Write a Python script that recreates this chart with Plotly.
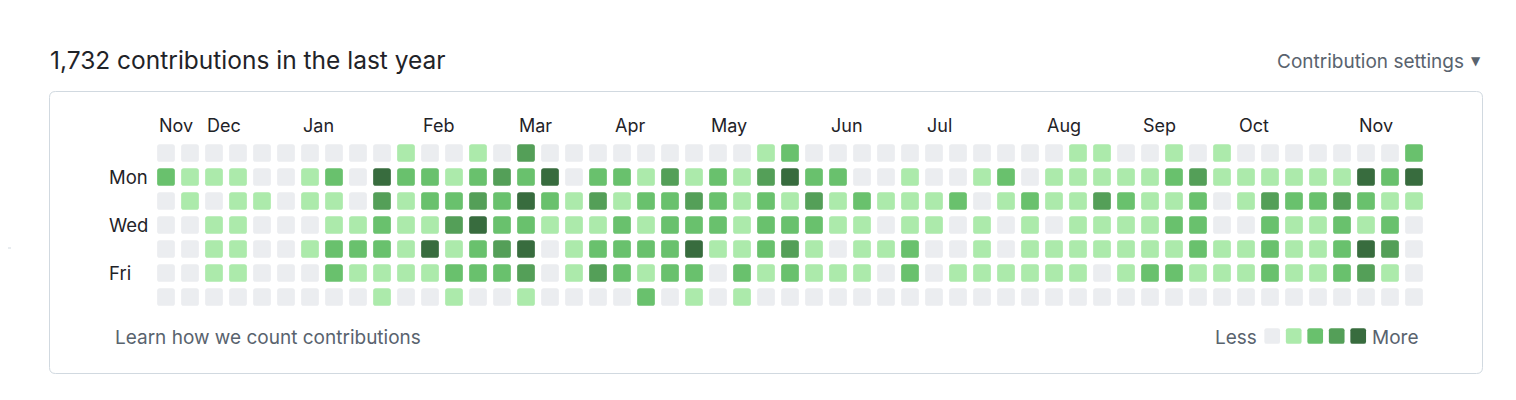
import plotly.graph_objects as go

# ---- data ----
weekday_names = ["Sun", "Mon", "Tue", "Wed", "Thu", "Fri", "Sat"]
sun = [0,0,0,0,0,0,0,0,0,0,1, 0,0,1,0,3,0,0,0,0,0,0,0, 0,0,1,2,0,0,0,0,0,0,0,0,0, 0,0,1,1,0,0,1,0,1,0,0,0,0, 0,0,0,2]
mon = [2,1,1,1,0,0,1,2,0,4,2, 2,1,2,3,2,4,0,2,2,1,3,1, 2,1,3,4,2,2,0,0,1,0,0,1,2, 0,1,1,1,1,1,2,3,1,1,1,1,1, 1,4,2,4]
tue = [0,1,0,1,1,0,1,1,0,3,1, 2,2,3,2,4,2,1,3,1,2,2,3, 2,1,2,1,3,1,2,1,1,1,2,0,1, 2,1,1,3,2,1,1,2,0,1,3,2,2, 3,2,1,1]
wed = [0,0,1,1,0,0,0,1,1,2,1, 1,3,4,2,2,1,1,1,2,1,2,2, 2,1,2,2,2,1,1,0,1,1,0,1,0, 1,0,1,1,1,1,2,2,0,0,2,1,1, 2,1,2,0]
thu = [0,0,1,1,0,0,1,2,2,2,1, 4,1,2,3,4,0,1,2,2,2,2,4, 1,1,2,3,1,0,1,1,2,0,0,1,0, 1,1,1,1,1,1,1,2,1,1,2,1,1, 2,4,3,0]
fri = [0,0,1,1,0,0,0,2,1,1,1, 1,2,2,2,3,0,1,3,2,1,2,2, 0,2,1,2,1,1,1,0,2,0,1,1,1, 1,1,1,0,1,2,2,1,1,1,2,1,1, 2,3,1,0]
sat = [0,0,0,0,0,0,0,0,0,1,0, 0,1,0,0,1,0,0,0,0,2,0,1, 0,1,0,0,0,0,0,0,0,0,0,0,0, 0,0,0,0,0,0,0,0,0,0,0,0,0, 0,0,0,0]
weeks = [sun, mon, tue, wed, thu, fri, sat]

month_labels = ["Nov", "Dec", "Jan", "Feb", "Mar", "Apr", "May", "Jun", "Jul", "Aug", "Sep", "Oct", "Nov"]
month_cols = [0, 2, 6, 11, 15, 19, 23, 28, 32, 37, 41, 45, 50]
day_labels = ["Mon", "Wed", "Fri"]
day_rows = [1, 3, 5]
level_colors = ["#ebedf0", "#aceaab", "#69c16d", "#549f58", "#386c3e"]

title_text = "1,732 contributions in the last year"

# ---- geometry (page pixels; figure sits at an 8px body offset) ----
OFF = 8
W, H = 1516 - 2 * OFF, 400 - 2 * OFF
PX = 24.0  # pixels per column/row unit
X0 = -(166 - OFF) / PX
Y0 = -(153 - OFF) / PX
half = 8.85 / PX
rad = 2.6 / PX


def rrect(cx, cy, hw, hh, r):
    x0, x1, y0, y1 = cx - hw, cx + hw, cy - hh, cy + hh
    return (f"M {x0+r},{y0} L {x1-r},{y0} Q {x1},{y0} {x1},{y0+r} "
            f"L {x1},{y1-r} Q {x1},{y1} {x1-r},{y1} L {x0+r},{y1} "
            f"Q {x0},{y1} {x0},{y1-r} L {x0},{y0+r} Q {x0},{y0} {x0+r},{y0} Z")


def px(x):
    return (x - OFF) / W


def py(y):
    return 1 - (y - OFF) / H


def dx(x):
    return (x - 166) / PX


def dy(y):
    return (y - 153) / PX


shapes = []
# bounding box (paper coords)
bx0, bx1, by0, by1, br = 49.5, 1482.5, 91.5, 373.5, 6
rx, ry = br / W, br / H
a, b, c, d = px(bx0), px(bx1), py(by0), py(by1)
box_path = (f"M {a+rx},{c} L {b-rx},{c} Q {b},{c} {b},{c-ry} L {b},{d+ry} Q {b},{d} {b-rx},{d} "
            f"L {a+rx},{d} Q {a},{d} {a},{d+ry} L {a},{c-ry} Q {a},{c} {a+rx},{c} Z")
shapes.append(dict(type="path", xref="paper", yref="paper", path=box_path,
                   line=dict(color="#d1d9e0", width=1), fillcolor="rgba(0,0,0,0)", layer="below"))
shapes.append(dict(type="line", xref="x", yref="y", x0=dx(0), x1=dx(11), y0=dy(248), y1=dy(248),
                   line=dict(color="#d1d9e0", width=1)))

# contribution cells
for r, row in enumerate(weeks):
    for col, lvl in enumerate(row):
        shapes.append(dict(type="path", xref="x", yref="y", path=rrect(col, r, half, half, rad),
                           fillcolor=level_colors[lvl], line=dict(width=0), layer="above"))

# legend swatches
leg_x0 = dx(1272.2)
leg_dx = 21.5 / PX
leg_y = dy(336)
leg_half = 7.85 / PX
for i, col in enumerate(level_colors):
    shapes.append(dict(type="path", xref="x", yref="y",
                       path=rrect(leg_x0 + i * leg_dx, leg_y, leg_half, leg_half, 2.2 / PX),
                       fillcolor=col, line=dict(width=0)))

FONT = "Inter, Liberation Sans, Arial, sans-serif"
ann = []
for lab, col in zip(month_labels, month_cols):
    ann.append(dict(x=col - half, y=dy(125), xref="x", yref="y", text=lab, showarrow=False,
                    xanchor="left", yanchor="middle", font=dict(family=FONT, size=18, color="#1f2328")))
for lab, r in zip(day_labels, day_rows):
    ann.append(dict(x=dx(107), y=r, xref="x", yref="y", text=lab, showarrow=False,
                    xanchor="left", yanchor="middle", font=dict(family=FONT, size=18.5, color="#1f2328")))

ann.append(dict(x=dx(48), y=dy(60), xref="x", yref="y", text=title_text, showarrow=False,
                xanchor="left", yanchor="middle", font=dict(family=FONT, size=24.5, color="#1f2328")))
ann.append(dict(x=dx(1466), y=dy(61), xref="x", yref="y", text="Contribution settings", showarrow=False,
                xanchor="right", yanchor="middle", font=dict(family=FONT, size=19, color="#59636e")))
ann.append(dict(x=dx(1476), y=dy(61), xref="x", yref="y", text="▼", showarrow=False,
                xanchor="center", yanchor="middle", font=dict(family="DejaVu Sans", size=12, color="#59636e")))
ann.append(dict(x=dx(113), y=dy(337), xref="x", yref="y", text="Learn how we count contributions",
                showarrow=False, xanchor="left", yanchor="middle",
                font=dict(family=FONT, size=19, color="#59636e")))
ann.append(dict(x=dx(1259), y=dy(337), xref="x", yref="y", text="Less", showarrow=False,
                xanchor="right", yanchor="middle", font=dict(family=FONT, size=19, color="#59636e")))
ann.append(dict(x=dx(1370), y=dy(337), xref="x", yref="y", text="More", showarrow=False,
                xanchor="left", yanchor="middle", font=dict(family=FONT, size=19, color="#59636e")))

fig = go.Figure()
fig.add_trace(go.Scatter(x=[], y=[], mode="markers", showlegend=False, hoverinfo="skip"))
fig.update_layout(
    width=W, height=H, margin=dict(l=0, r=0, t=0, b=0),
    paper_bgcolor="#ffffff", plot_bgcolor="#ffffff",
    xaxis=dict(range=[X0, X0 + W / PX], visible=False, fixedrange=True),
    yaxis=dict(range=[Y0 + H / PX, Y0], visible=False, fixedrange=True),
    shapes=shapes, annotations=ann, showlegend=False,
)
fig.write_html("out.html", config={"displayModeBar": False})
